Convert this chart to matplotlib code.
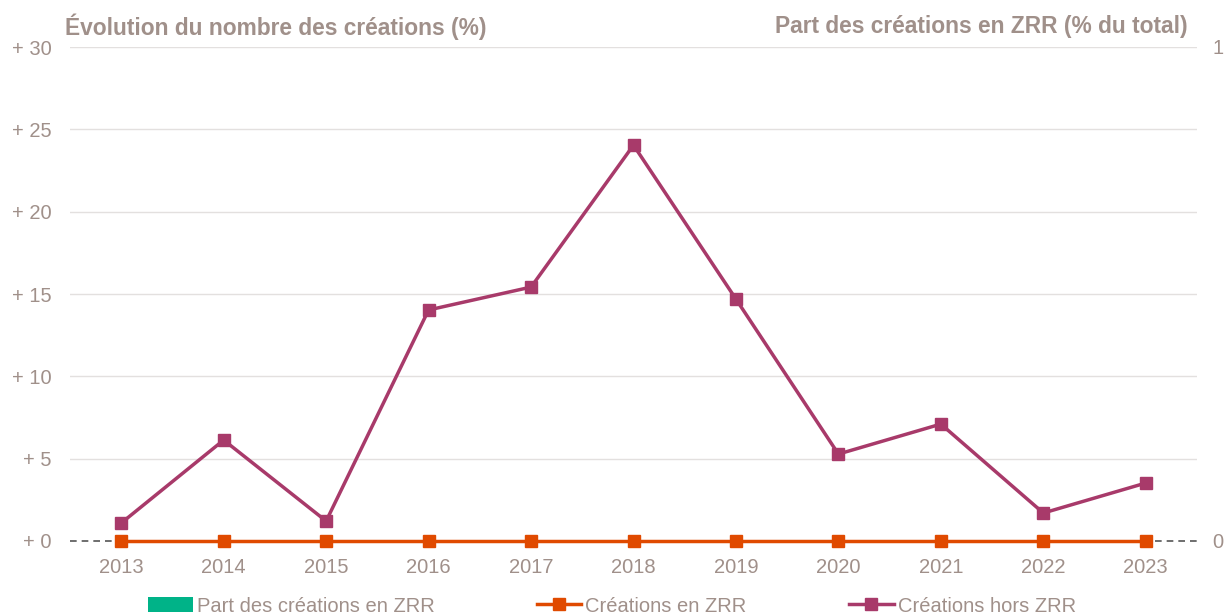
import matplotlib
matplotlib.use("Agg")
import matplotlib.pyplot as plt
from matplotlib.patches import Patch
from matplotlib.lines import Line2D

plt.rcParams['font.family'] = ['Liberation Sans', 'DejaVu Sans']

years = ["2013", "2014", "2015", "2016", "2017", "2018", "2019", "2020", "2021", "2022", "2023"]
part_zrr = [0, 0, 0, 0, 0, 0, 0, 0, 0, 0, 0]
creations_zrr = [0, 0, 0, 0, 0, 0, 0, 0, 0, 0, 0]
creations_hors_zrr = [1.09, 6.13, 1.21, 14.03, 15.42, 24.04, 14.69, 5.28, 7.10, 1.70, 3.52]
left_ticks = [0, 5, 10, 15, 20, 25, 30]
left_labels = ["+ 0", "+ 5", "+ 10", "+ 15", "+ 20", "+ 25", "+ 30"]
right_ticks = [0, 1]
right_labels = ["0", "1"]

TXT = "#a0908a"
PURPLE = "#a83a6a"
ORANGE = "#e04a00"
GREEN = "#00b388"

fig = plt.figure(figsize=(12.24, 6.16), dpi=100)
ax = fig.add_axes([70/1224, 1-541/616, (1197-70)/1224, (541-47)/616])
ax2 = ax.twinx()

x = list(range(len(years)))

ax.set_xlim(-0.5, len(years)-0.5)
ax.set_ylim(0, 30)
ax.set_yticks(left_ticks)
ax.set_yticklabels(left_labels)
for t in left_ticks[1:]:
    ax.axhline(t, color="#e3e0df", lw=1, zorder=0)
ax.axhline(0, color="#555555", lw=1.2, ls=(0, (4, 3)), zorder=1, clip_on=False)

ax2.bar(x, part_zrr, color=GREEN, width=0.5, zorder=1)
ax2.set_ylim(0, 1)
ax2.set_yticks(right_ticks)
ax2.set_yticklabels(right_labels)

ax.set_zorder(ax2.get_zorder() + 1)
ax.patch.set_visible(False)

ax.plot(x, creations_zrr, color=ORANGE, lw=2.5, marker='s', ms=9, zorder=3, clip_on=False)
ax.plot(x, creations_hors_zrr, color=PURPLE, lw=2.5, marker='s', ms=9, zorder=4, clip_on=False)

ax.set_xticks(x)
ax.set_xticklabels(years)

for a in (ax, ax2):
    for s in a.spines.values():
        s.set_visible(False)
    a.tick_params(length=0, colors=TXT, labelsize=14.5)
ax.tick_params(axis='x', pad=12)
ax.tick_params(axis='y', pad=13)
ax2.tick_params(axis='y', pad=11)

fig.text(65/1224, 1-27/616, "Évolution du nombre des créations (%)", color=TXT,
         fontsize=16.4, fontweight='bold', ha='left', va='center')
fig.text(1188/1224, 1-27/616, "Part des créations en ZRR (% du total)", color=TXT,
         fontsize=16.4, fontweight='bold', ha='right', va='center')

handles = [
    Patch(facecolor=GREEN, edgecolor='none'),
    Line2D([0], [0], color=ORANGE, lw=2.5, marker='s', ms=9),
    Line2D([0], [0], color=PURPLE, lw=2.5, marker='s', ms=9),
]
labels = ["Part des créations en ZRR", "Créations en ZRR", "Créations hors ZRR"]
leg = fig.legend(handles, labels, loc='center', bbox_to_anchor=(0.5, 1-606/616), ncol=3,
                 frameon=False, fontsize=14.5, handlelength=2.2, handleheight=0.7,
                 handletextpad=0.2, columnspacing=5.1, labelcolor=TXT)

fig.savefig("out.png", dpi=100)
